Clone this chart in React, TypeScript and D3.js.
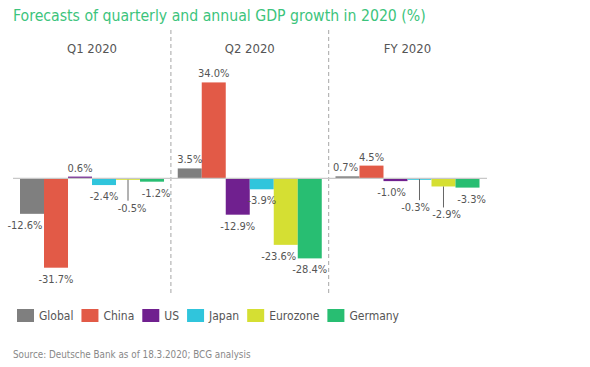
import React, { useEffect, useRef } from "react";
import * as d3 from "d3";

// periods and countries
const groups = ["Q1 2020", "Q2 2020", "FY 2020"];
const series = ["Global", "China", "US", "Japan", "Eurozone", "Germany"];

// GDP growth forecasts (%), one array per period, same order as series
const q1Values = [-12.6, -31.7, 0.6, -2.4, -0.5, -1.2];
const q2Values = [3.5, 34.0, -12.9, -3.9, -23.6, -28.4];
const fyValues = [0.7, 4.5, -1.0, -0.3, -2.9, -3.3];

const colors = ["#7f7f7f", "#e25a47", "#70208f", "#30c5dc", "#d5df33", "#28be72"];

// labels that hang off a short leader line
const leaderLabels = ["Q1 2020|Eurozone", "FY 2020|Japan", "FY 2020|Eurozone"];
// small horizontal nudges so labels don't sit on neighbouring bars
const labelNudge: Record<string, number> = {
  "Q1 2020|Global": -7,
  "Q1 2020|Eurozone": 4,
  "Q1 2020|Germany": 4,
  "Q2 2020|Eurozone": -7,
  "FY 2020|Global": -2,
  "FY 2020|US": -4,
  "FY 2020|Japan": -4,
  "FY 2020|Eurozone": 3,
  "FY 2020|Germany": 4,
};

const FONT = "Tahoma, 'DejaVu Sans Condensed', 'Open Sans', sans-serif";

const App = () => {
  const ref = useRef<SVGSVGElement>(null);

  useEffect(() => {
    const svg = d3.select(ref.current);
    svg.selectAll("*").remove();

    const width = 590;
    const height = 367;

    const rows = [q1Values, q2Values, fyValues];
    const data = groups.flatMap((g, gi) =>
      series.map((s, si) => ({ group: g, name: s, value: rows[gi][si], color: colors[si] }))
    );

    // group scale and inner bar scale
    const x0 = d3.scaleBand<string>().domain(groups).range([20, 479.5]).paddingInner(0.087).paddingOuter(0);
    const x1 = d3.scaleBand<string>().domain(series).range([0, x0.bandwidth()]).padding(0);
    const y = d3.scaleLinear().domain([-40, 40]).range([291.1, 65.5]);

    svg.append("rect").attr("width", width).attr("height", height).attr("fill", "#fff");

    // title
    svg
      .append("text")
      .attr("x", 13)
      .attr("y", 21)
      .attr("fill", "#3cc47c")
      .attr("font-size", 15.7)
      .attr("font-family", FONT)
      .text("Forecasts of quarterly and annual GDP growth in 2020 (%)");

    // dashed dividers between periods
    const step = x0.step();
    groups.slice(1).forEach((g) => {
      const xx = (x0(g) as number) - (step - x0.bandwidth()) / 2;
      svg
        .append("line")
        .attr("x1", xx)
        .attr("x2", xx)
        .attr("y1", 30)
        .attr("y2", 294)
        .attr("stroke", "#b5b5b5")
        .attr("stroke-width", 1.2)
        .attr("stroke-dasharray", "4,3");
    });

    // period headers
    svg
      .selectAll(".hdr")
      .data(groups)
      .enter()
      .append("text")
      .attr("x", (d) => (x0(d) as number) + x0.bandwidth() / 2)
      .attr("y", 53)
      .attr("text-anchor", "middle")
      .attr("fill", "#555")
      .attr("font-size", 13)
      .attr("font-family", FONT)
      .text((d) => d);

    // bars
    svg
      .selectAll(".bar")
      .data(data)
      .enter()
      .append("rect")
      .attr("x", (d) => (x0(d.group) as number) + (x1(d.name) as number))
      .attr("width", x1.bandwidth())
      .attr("y", (d) => y(Math.max(0, d.value)))
      .attr("height", (d) => Math.max(1.5, Math.abs(y(d.value) - y(0))))
      .attr("fill", (d) => d.color);

    // zero line
    svg
      .append("line")
      .attr("x1", 13)
      .attr("x2", 487)
      .attr("y1", y(0))
      .attr("y2", y(0))
      .attr("stroke", "#c8c8c8")
      .attr("stroke-width", 1.2);

    // value labels
    data.forEach((d) => {
      const key = `${d.group}|${d.name}`;
      const cx = (x0(d.group) as number) + (x1(d.name) as number) + x1.bandwidth() / 2;
      const tx = cx + (labelNudge[key] || 0);
      let ty;
      if (d.value >= 0) {
        ty = y(d.value) - 5;
      } else if (leaderLabels.includes(key)) {
        const bottom = y(d.value);
        svg
          .append("line")
          .attr("x1", cx)
          .attr("x2", cx)
          .attr("y1", bottom)
          .attr("y2", bottom + 21)
          .attr("stroke", "#666")
          .attr("stroke-width", 1);
        ty = bottom + 32;
      } else {
        ty = y(d.value) + 15;
      }
      svg
        .append("text")
        .attr("x", tx)
        .attr("y", ty)
        .attr("text-anchor", "middle")
        .attr("fill", "#555")
        .attr("font-size", 11)
        .attr("font-family", FONT)
        .text(`${d.value.toFixed(1)}%`);
    });

    // legend
    let lx = 17;
    series.forEach((s, i) => {
      svg.append("rect").attr("x", lx).attr("y", 309).attr("width", 17).attr("height", 13).attr("fill", colors[i]);
      const t = svg
        .append("text")
        .attr("x", lx + 22)
        .attr("y", 320)
        .attr("fill", "#555")
        .attr("font-size", 12)
        .attr("font-family", FONT)
        .text(s);
      const w = (t.node() as SVGTextElement).getComputedTextLength();
      lx += 22 + w + 8;
    });

    // source
    svg
      .append("text")
      .attr("x", 13)
      .attr("y", 358)
      .attr("fill", "#888")
      .attr("font-size", 9.8)
      .attr("font-family", FONT)
      .text("Source: Deutsche Bank as of 18.3.2020; BCG analysis");
  }, []);

  return (
    <svg
      ref={ref}
      width={590}
      height={367}
      style={{ position: "absolute", left: 0, top: 0, display: "block" }}
    />
  );
};

export default App;
